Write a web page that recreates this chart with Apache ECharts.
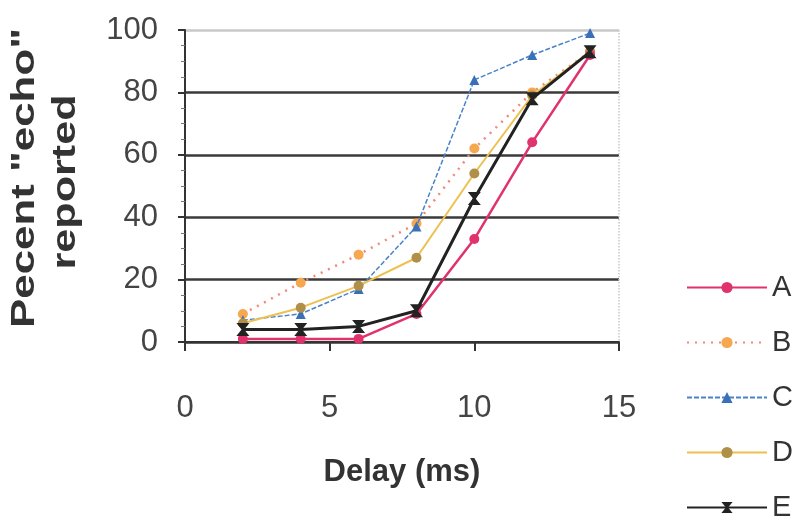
<!DOCTYPE html>
<html>
<head>
<meta charset="utf-8">
<script src="https://cdn.jsdelivr.net/npm/echarts@6/dist/echarts.min.js"></script>
<style>html,body{margin:0;padding:0;background:#fff;}#c{width:805px;height:519px;}</style>
</head>
<body>
<div id="c"></div>
<script>
const delays = [2, 4, 6, 8, 10, 12, 14];
const seriesNames = ['A', 'B', 'C', 'D', 'E'];
const valuesA = [1, 1, 1, 9, 33, 64, 92];
const valuesB = [9, 19, 28, 38, 62, 80, 93];
const valuesC = [7, 9, 17, 37, 84, 92, 99];
const valuesD = [6, 11, 18, 27, 54, 79, 93];
const valuesE = [4, 4, 5, 10, 46, 78, 93];
const yTitleLines = ['Pecent "echo"', 'reported'];
const xTitle = 'Delay (ms)';

const pairs = v => delays.map((d, i) => [d, v[i]]);
const font = 'Liberation Sans, Arial, sans-serif';
const chart = echarts.init(document.getElementById('c'), null, {renderer: 'canvas'});
const hourglass = 'path://M0,0 L10,0 L6,5 L10,10 L0,10 L4,5 Z';

// measure title widths to stretch them along the text direction
const ctx = document.createElement('canvas').getContext('2d');
ctx.font = 'bold 33px "Liberation Sans", Arial, sans-serif';
const titleCentres = [[25, 178], [66, 182]];
const titleLengths = [300, 175];

const legendBase = {
  orient: 'vertical', left: 686, padding: 0,
  itemWidth: 80, itemHeight: 14, itemGap: 26,
  textStyle: {fontSize: 29, color: '#333', fontFamily: font}
};

chart.setOption({
  backgroundColor: '#fff',
  animation: false,
  grid: {left: 185, right: 186, top: 30, bottom: 177, containLabel: false, outerBoundsMode: 'none'},
  legend: [
    Object.assign({}, legendBase, {top: 273, data: seriesNames.slice(0, 4)}),
    Object.assign({}, legendBase, {top: 493, data: seriesNames.slice(4)})
  ],
  graphic: yTitleLines.map((t, i) => ({
    type: 'text',
    x: titleCentres[i][0], y: titleCentres[i][1],
    rotation: Math.PI / 2,
    scaleX: titleLengths[i] / ctx.measureText(t).width,
    silent: true,
    style: {text: t, fontSize: 33, fontWeight: 'bold', fontFamily: font, fill: '#333',
      align: 'center', verticalAlign: 'middle'}
  })),
  xAxis: {
    type: 'value', min: 0, max: 15, interval: 5,
    axisLine: {show: true, onZero: false, lineStyle: {color: '#333', width: 2}},
    axisTick: {show: true, length: 9, lineStyle: {color: '#333', width: 2}},
    axisLabel: {fontSize: 31, color: '#444', fontFamily: font, margin: 51},
    splitLine: {show: true, lineStyle: {color: ['transparent', 'transparent', 'transparent', '#c8c8c8'], type: 'dotted', width: 1.5}},
    name: xTitle, nameLocation: 'middle', nameGap: 115,
    nameTextStyle: {fontSize: 31, fontWeight: 'bold', color: '#333', fontFamily: font}
  },
  yAxis: {
    type: 'value', min: 0, max: 100, interval: 20,
    axisLine: {show: true, lineStyle: {color: '#333', width: 2}},
    axisTick: {show: true, length: 7, lineStyle: {color: '#333', width: 2}},
    minorTick: {show: true, splitNumber: 4, length: 4, lineStyle: {color: '#777'}},
    axisLabel: {fontSize: 31, color: '#444', fontFamily: font, margin: 27},
    splitLine: {show: true, lineStyle: {color: ['#333', '#3a3a3a', '#3a3a3a', '#3a3a3a', '#3a3a3a', '#c8c8c8'], width: 2.5}}
  },
  series: [
    {name: 'A', type: 'line', data: pairs(valuesA), symbol: 'circle', symbolSize: 10,
      lineStyle: {color: '#e0336e', width: 2.5}, itemStyle: {color: '#e0336e'}, z: 5},
    {name: 'B', type: 'line', data: pairs(valuesB), symbol: 'circle', symbolSize: 10,
      lineStyle: {color: '#f08a78', width: 2.5, type: [2, 6]}, itemStyle: {color: '#f5a850'}, z: 2},
    {name: 'C', type: 'line', data: pairs(valuesC), symbol: 'triangle', symbolSize: 10,
      lineStyle: {color: '#4a82c8', width: 1.5, type: [5, 2]}, itemStyle: {color: '#3a70b8'}, z: 3},
    {name: 'D', type: 'line', data: pairs(valuesD), symbol: 'circle', symbolSize: 10,
      lineStyle: {color: '#edc050', width: 2}, itemStyle: {color: '#b09048'}, z: 4},
    {name: 'E', type: 'line', data: pairs(valuesE), symbol: hourglass, symbolSize: 13,
      lineStyle: {color: '#222', width: 3}, itemStyle: {color: '#222'}, z: 6}
  ]
});
</script>
</body>
</html>
